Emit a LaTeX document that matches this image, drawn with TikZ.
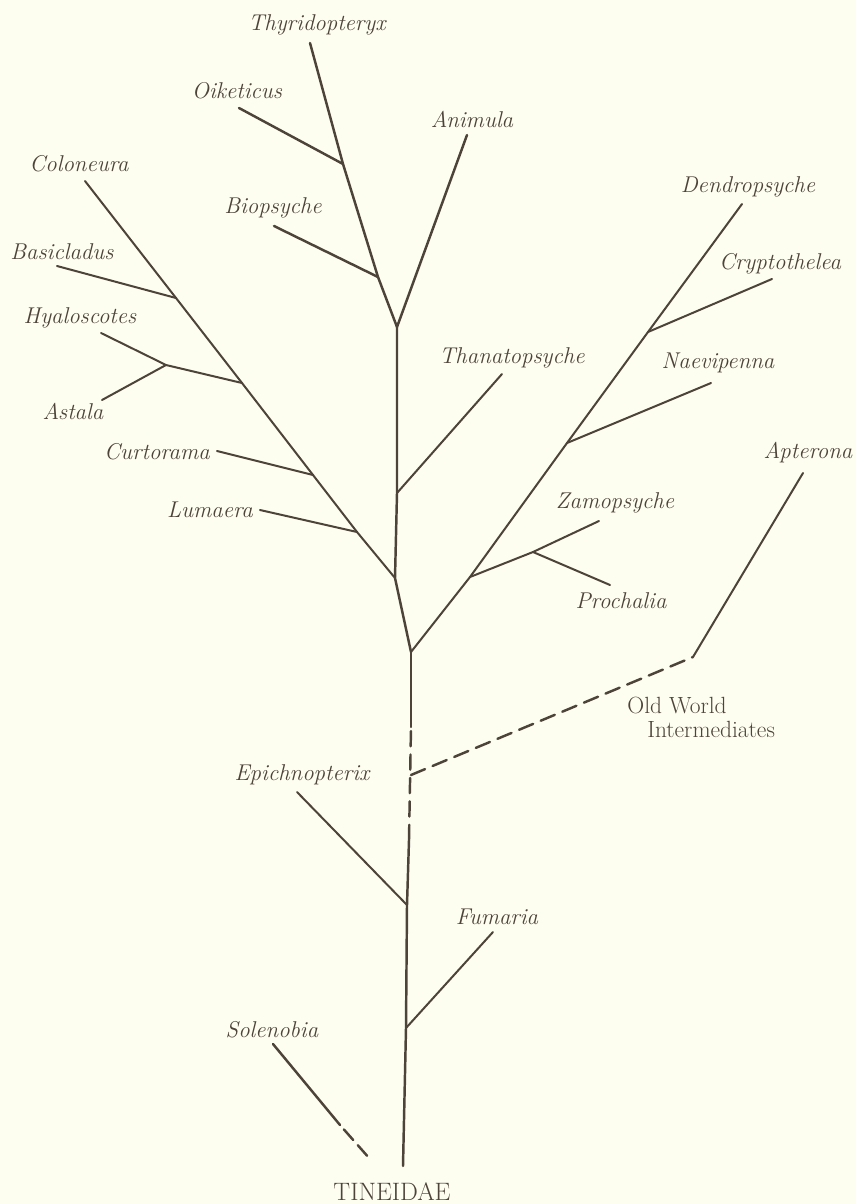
\documentclass[tikz,border=0pt]{standalone}
\usepackage{tikz}
\usetikzlibrary{positioning}
\definecolor{ink}{HTML}{4d4339}
\definecolor{paper}{HTML}{FDFDF0}

\begin{document}
\begin{tikzpicture}[x=0.03cm,y=-0.03cm,
    branch/.style={draw=ink,line width=2.1pt,line cap=round,line join=round},
    thin/.style={branch,line width=1.7pt},
    broken/.style={branch,dash pattern=on 13pt off 7pt},
    taxon/.style={text=ink,font=\fontsize{19.5}{22}\selectfont\itshape,inner sep=1pt},
    group/.style={text=ink,font=\fontsize{20}{20.5}\selectfont,inner sep=1pt}]
    \fill[paper] (0,0) rectangle (856,1204);
    % labels
    \node[taxon] (thyr) at (317,25) {Thyridopteryx};
    \node[taxon] (oike) at (237,91) {Oiketicus};
    \node[taxon] (anim) at (472,119) {Animula};
    \node[taxon] (colo) at (79,164) {Coloneura};
    \node[taxon] (biop) at (273,208) {Biopsyche};
    \node[taxon] (basi) at (62,252) {Basicladus};
    \node[taxon] (hyal) at (80,318) {Hyaloscotes};
    \node[taxon] (asta) at (73,411) {Astala};
    \node[taxon] (curt) at (157,452) {Curtorama};
    \node[taxon] (luma) at (210,510) {Lumaera};
    \node[taxon] (than) at (512,358) {Thanatopsyche};
    \node[taxon] (dend) at (748,187) {Dendropsyche};
    \node[taxon] (cryp) at (780,264) {Cryptothelea};
    \node[taxon] (naev) at (718,363) {Naevipenna};
    \node[taxon] (apte) at (808,453) {Apterona};
    \node[taxon] (zamo) at (615,503) {Zamopsyche};
    \node[taxon] (proc) at (621,601) {Prochalia};
    \node[taxon] (epic) at (302,775) {Epichnopterix};
    \node[taxon] (fuma) at (497,917) {Fumaria};
    \node[taxon] (sole) at (272,1030) {Solenobia};
    \node[group,font=\fontsize{21.5}{22}\selectfont] (tine) at (392,1192) {TINEIDAE};
    \node[group,anchor=west,align=left] (oldw) at (626,717) {Old World\\\hspace{17pt}Intermediates};
    % tips
    \coordinate (tThyr) at (310,43);
    \coordinate (tOike) at (239,108);
    \coordinate (tAnim) at (467,135);
    \coordinate (tColo) at (85,181);
    \coordinate (tBiop) at (274,226);
    \coordinate (tBasi) at (57,266);
    \coordinate (tHyal) at (101,333);
    \coordinate (tAsta) at (102,400);
    \coordinate (tCurt) at (217,451);
    \coordinate (tLuma) at (260,510);
    \coordinate (tThan) at (502,374);
    \coordinate (tDend) at (742,204);
    \coordinate (tCryp) at (772,279);
    \coordinate (tNaev) at (711,383);
    \coordinate (tApte) at (803,473);
    \coordinate (tZamo) at (599,521);
    \coordinate (tProc) at (610,585);
    \coordinate (tEpic) at (297,792);
    \coordinate (tFuma) at (493,932);
    \coordinate (tSole) at (273,1044);
    % forks
    \coordinate (jOike) at (343,164);
    \coordinate (jBiop) at (378,277);
    \coordinate (jTop) at (397,327);
    \coordinate (jThan) at (397,493);
    \coordinate (jLeft) at (395,578);
    \coordinate (jBasi) at (176,298);
    \coordinate (jHyal) at (242,383);
    \coordinate (jAsta) at (166,365);
    \coordinate (jCurt) at (313,475);
    \coordinate (jLuma) at (357,532);
    \coordinate (jMain) at (411,652);
    \coordinate (jZamo) at (470,577);
    \coordinate (jProc) at (533,552);
    \coordinate (jNaev) at (567,443);
    \coordinate (jCryp) at (648,332);
    \coordinate (jBend) at (693,657);
    \coordinate (gapTop) at (411,727);
    \coordinate (jOldw) at (411,775);
    \coordinate (gapBot) at (409,840);
    \coordinate (jEpic) at (407,905);
    \coordinate (jFuma) at (406,1028);
    \coordinate (root) at (403,1166);
    \coordinate (sBreak) at (340,1125);
    \coordinate (sEnd) at (377,1167);
    % trunk
    \draw[branch] (root) -- (jFuma) -- (jEpic) -- (gapBot);
    \draw[broken] (gapBot) -- (gapTop);
    \draw[branch] (gapTop) -- (jMain);
    \draw[branch] (jMain) -- (jLeft) -- (jThan) -- (jTop);
    \draw[branch] (jTop) -- (jBiop) -- (jOike) -- (tThyr);
    \draw[branch] (jTop) -- (tAnim);
    \draw[branch] (jOike) -- (tOike);
    \draw[branch] (jBiop) -- (tBiop);
    \draw[thin] (jThan) -- (tThan);
    % left limb
    \draw[thin] (jLeft) -- (jLuma) -- (jCurt) -- (jHyal) -- (jBasi) -- (tColo);
    \draw[thin] (jBasi) -- (tBasi);
    \draw[thin] (jHyal) -- (jAsta) -- (tHyal);
    \draw[thin] (jAsta) -- (tAsta);
    \draw[thin] (jCurt) -- (tCurt);
    \draw[thin] (jLuma) -- (tLuma);
    % right limb
    \draw[thin] (jMain) -- (jZamo) -- (jNaev) -- (jCryp) -- (tDend);
    \draw[thin] (jCryp) -- (tCryp);
    \draw[thin] (jNaev) -- (tNaev);
    \draw[thin] (jZamo) -- (jProc) -- (tZamo);
    \draw[thin] (jProc) -- (tProc);
    % old world line
    \draw[broken] (jOldw) -- (jBend);
    \draw[thin] (jBend) -- (tApte);
    % lower branches
    \draw[thin] (jEpic) -- (tEpic);
    \draw[thin] (jFuma) -- (tFuma);
    \draw[branch] (tSole) -- (sBreak);
    \draw[broken,dash pattern=on 0pt off 5pt on 12pt off 6pt on 12pt off 20pt] (sBreak) -- (sEnd);
\end{tikzpicture}
\end{document}
